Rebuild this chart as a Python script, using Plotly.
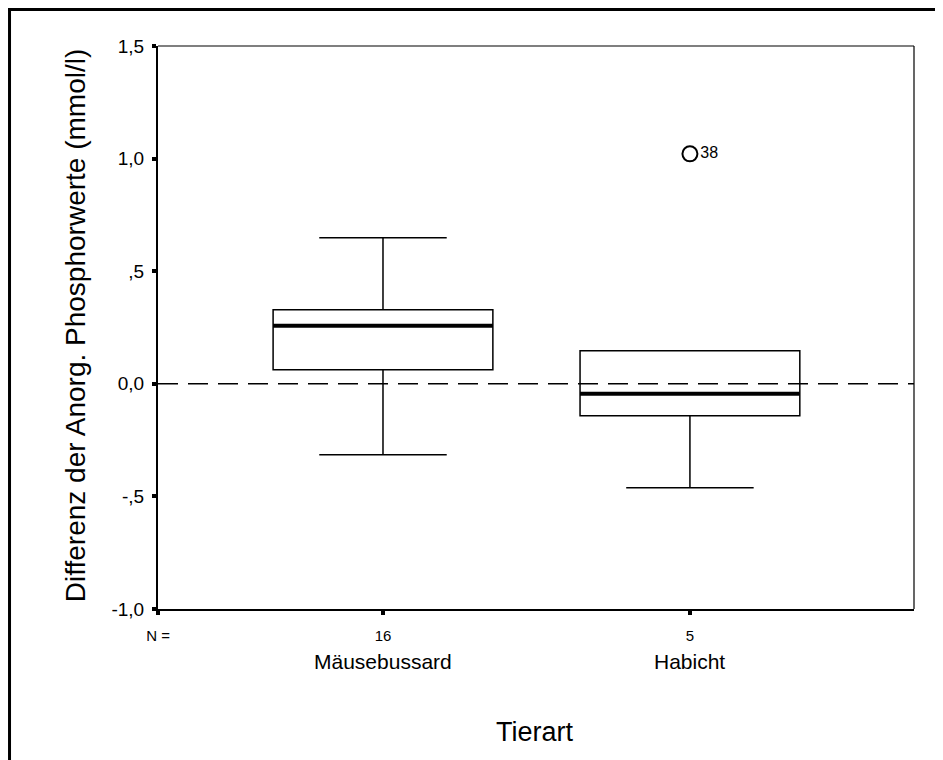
import plotly.graph_objects as go

categories = ["Mäusebussard", "Habicht"]
n_counts = ["16", "5"]
q1 = [0.062, -0.142]
median = [0.258, -0.044]
q3 = [0.329, 0.147]
lower_whisker = [-0.315, -0.462]
upper_whisker = [0.648, 0.147]
outlier_y = [1.021]
outlier_cat = [2]
outlier_labels = ["38"]

y_tickvals = [-1.0, -0.5, 0.0, 0.5, 1.0, 1.5]
y_ticktext = ["-1,0", "-,5", "0,0", ",5", "1,0", "1,5"]

pos = [1, 2]
box_w = 0.716
x_range = [0.267, 2.73]

FONT = "Liberation Sans, Arial, sans-serif"

fig = go.Figure()
for i, cat in enumerate(categories):
    fig.add_trace(go.Box(
        x=[pos[i]], q1=[q1[i]], median=[median[i]], q3=[q3[i]],
        lowerfence=[lower_whisker[i]], upperfence=[upper_whisker[i]],
        width=box_w, whiskerwidth=0.58,
        fillcolor="white", line=dict(color="black", width=1.5),
        boxpoints=False, showlegend=False, hoverinfo="skip",
    ))
    fig.add_trace(go.Scatter(
        x=[pos[i] - box_w / 2, pos[i] + box_w / 2], y=[median[i], median[i]],
        mode="lines", line=dict(color="black", width=4),
        showlegend=False, hoverinfo="skip",
    ))

fig.add_trace(go.Scatter(
    x=outlier_cat, y=outlier_y, mode="markers+text",
    marker=dict(symbol="circle-open", size=15, color="black", line=dict(width=2, color="black")),
    text=outlier_labels, textposition="middle right",
    textfont=dict(family=FONT, size=16, color="black"),
    showlegend=False, hoverinfo="skip",
))

# dashed zero line
fig.add_shape(type="line", xref="paper", yref="y", x0=0, x1=1, y0=0, y1=0,
              line=dict(color="black", width=1.5, dash="20px,10px"))
# thin top and right frame
fig.add_shape(type="line", xref="paper", yref="paper", x0=0, x1=1, y0=1, y1=1,
              line=dict(color="black", width=1.2))
fig.add_shape(type="line", xref="paper", yref="paper", x0=1, x1=1, y0=0, y1=1,
              line=dict(color="black", width=1.2))
# outer page frame (left and top edges visible)
fig.add_shape(type="line", xref="paper", yref="paper", x0=-0.1964, x1=-0.1964, y0=-0.3, y1=1.0648,
              line=dict(color="black", width=3))
fig.add_shape(type="line", xref="paper", yref="paper", x0=-0.1984, x1=1.1, y0=1.0648, y1=1.0648,
              line=dict(color="black", width=3))

for i, cat in enumerate(categories):
    fig.add_annotation(x=pos[i], xref="x", y=-0.094, yref="paper", text=cat, showarrow=False,
                       font=dict(family=FONT, size=21, color="black"), yanchor="middle")

fig.add_annotation(x=0.4987, xref="paper", y=-0.2185, yref="paper", text="Tierart", showarrow=False,
                   font=dict(family=FONT, size=27, color="black"), yanchor="middle")
fig.add_annotation(x=-0.1098, xref="paper", y=0.504, yref="paper",
                   text="Differenz der Anorg. Phosphorwerte (mmol/l)", textangle=-90, showarrow=False,
                   font=dict(family=FONT, size=28, color="black"), xanchor="center", yanchor="middle")

fig.update_layout(
    width=935, height=752,
    margin=dict(l=150, r=29, t=38, b=151),
    paper_bgcolor="white", plot_bgcolor="white",
    font=dict(family=FONT, color="black"),
    showlegend=False,
    xaxis=dict(range=x_range, showgrid=False, zeroline=False,
               showline=True, linecolor="black", linewidth=2,
               tickmode="array", tickvals=[x_range[0]] + pos, ticktext=["N ="] + n_counts,
               ticks="outside", ticklen=4, tickwidth=4, tickcolor="black",
               tickfont=dict(family=FONT, size=15, color="black"), ticklabelstandoff=8),
    yaxis=dict(range=[-1.0, 1.5], showgrid=False, zeroline=False,
               showline=True, linecolor="black", linewidth=2,
               tickmode="array", tickvals=y_tickvals, ticktext=y_ticktext,
               ticks="outside", ticklen=4, tickwidth=4, tickcolor="black",
               tickfont=dict(family=FONT, size=19, color="black"), ticklabelstandoff=4),
)

fig.write_html("out.html")
